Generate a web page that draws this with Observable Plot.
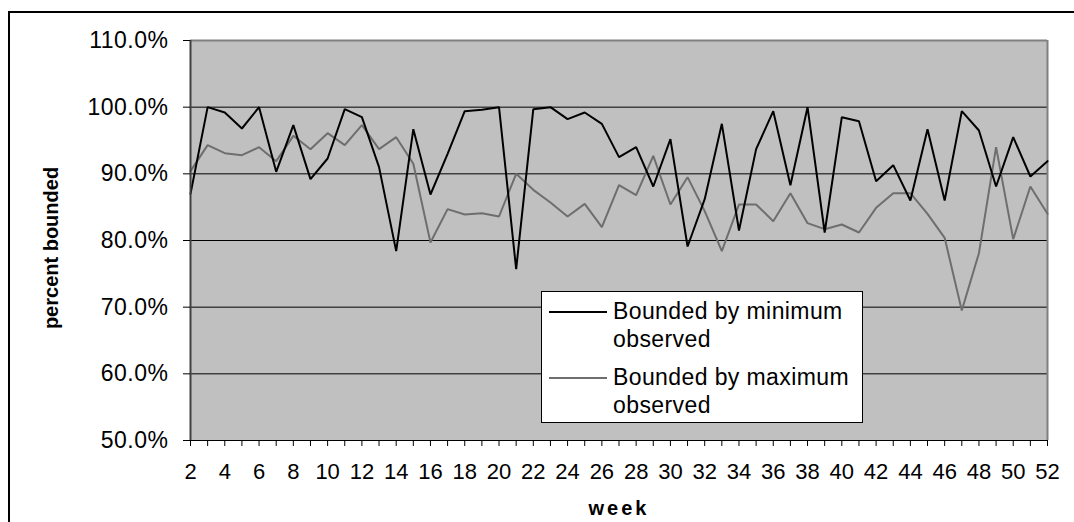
<!DOCTYPE html>
<html>
<head>
<meta charset="utf-8">
<script src="https://cdn.jsdelivr.net/npm/d3@7"></script>
<script src="https://cdn.jsdelivr.net/npm/@observablehq/plot@0.6"></script>
<style>
  html, body { margin: 0; padding: 0; background: #fff; overflow: hidden; }
  #wrap { position: relative; width: 1074px; height: 522px; font-family: "Liberation Sans", Arial, sans-serif; }
  #border { position: absolute; left: 8px; top: 11px; width: 1200px; height: 700px; border: 2px solid #000; }
  #chart { position: absolute; left: 0; top: 0; }
  .ytitle { position: absolute; left: 51px; top: 248px; transform: translate(-50%, -50%) rotate(-90deg); font-weight: bold; font-size: 20px; white-space: nowrap; }
  .xtitle { position: absolute; left: 619px; top: 508px; transform: translate(-50%, -50%); font-weight: bold; font-size: 20px; letter-spacing: 3px; white-space: nowrap; }
  #legend { position: absolute; left: 541px; top: 291px; width: 320px; height: 130px; background: #fff; border: 1px solid #000; font-size: 23px; letter-spacing: 0.4px; }
  .entry { position: absolute; left: 0; }
  .swatch { position: absolute; left: 7px; width: 58px; height: 0; }
  .ltext { position: absolute; left: 71px; line-height: 28px; white-space: nowrap; }
  .yax text { letter-spacing: 0.5px; }
</style>
</head>
<body>
<div id="wrap">
  <div id="border"></div>
  <div id="chart"></div>
  <div class="ytitle">percent bounded</div>
  <div class="xtitle">week</div>
  <div id="legend"></div>
</div>
<script>
const weeks = [2,3,4,5,6,7,8,9,10,11,12,13,14,15,16,17,18,19,20,21,22,23,24,25,26,27,
  28,29,30,31,32,33,34,35,36,37,38,39,40,41,42,43,44,45,46,47,48,49,50,51,52];
const weekLabels = [2,4,6,8,10,12,14,16,18,20,22,24,26,28,30,32,34,36,38,40,42,44,46,48,50,52];
// percent values
const boundedByMin = [87.0,100.0,99.2,96.8,100.0,90.3,97.3,89.2,92.3,99.7,98.5,91.0,78.4,96.7,86.9,93.0,
  99.4,99.6,100.0,75.7,99.7,100.0,98.2,99.2,97.5,92.5,94.0,88.1,95.2,79.1,86.2,97.5,81.5,93.7,
  99.4,88.3,100.0,81.2,98.5,97.9,88.9,91.3,86.0,96.7,86.0,99.4,96.5,88.1,95.5,89.6,91.9];
const boundedByMax = [90.4,94.3,93.1,92.8,94.0,91.9,95.7,93.7,96.1,94.3,97.3,93.7,95.5,91.5,79.7,84.7,
  83.9,84.1,83.6,90.0,87.6,85.7,83.6,85.5,82.0,88.3,86.8,92.7,85.4,89.5,84.4,78.4,85.4,85.4,
  82.9,87.1,82.6,81.7,82.4,81.2,84.9,87.1,87.1,84.0,80.4,69.5,78.1,94.0,80.2,88.1,84.0];
const yTicks = [0.5,0.6,0.7,0.8,0.9,1.0,1.1];
const gridTicks = [0.6,0.7,0.8,0.9,1.0];
const seriesNames = ["Bounded by minimum observed", "Bounded by maximum observed"];
const seriesColors = ["#000000", "#6e6e6e"];

const data = weeks.map((w, i) => ({week: w, min: boundedByMin[i] / 100, max: boundedByMax[i] / 100}));

const chart = Plot.plot({
  width: 1074,
  height: 522,
  marginLeft: 190,
  marginRight: 27,
  marginTop: 40,
  marginBottom: 82,
  style: {fontFamily: '"Liberation Sans", Arial, sans-serif', fontSize: "22px", color: "#000", background: "transparent", overflow: "visible"},
  x: {type: "linear", domain: [2, 52]},
  y: {domain: [0.5, 1.1]},
  marks: [
    Plot.frame({fill: "#c0c0c0", stroke: null}),
    Plot.ruleY(gridTicks, {stroke: "#000", strokeWidth: 1}),
    Plot.ruleY([1.1], {stroke: "#808080", strokeWidth: 2}),
    Plot.ruleX([52], {stroke: "#808080", strokeWidth: 2}),
    Plot.lineY(data, {x: "week", y: "max", stroke: seriesColors[1], strokeWidth: 2, strokeLinejoin: "miter"}),
    Plot.lineY(data, {x: "week", y: "min", stroke: seriesColors[0], strokeWidth: 2, strokeLinejoin: "miter"}),
    Plot.ruleX([2], {stroke: "#404040", strokeWidth: 2}),
    Plot.ruleY([0.5], {stroke: "#000", strokeWidth: 1}),
    Plot.axisY({ticks: yTicks, tickFormat: d3.format(".1%"), tickSize: 7, tickPadding: 15, label: null, fontSize: 23, className: "yax"}),
    Plot.axisX({ticks: weeks, tickFormat: () => "", tickSize: 6, label: null}),
    Plot.axisX({ticks: weekLabels, tickFormat: d => String(d), tickSize: 0, tickPadding: 23, label: null, fontSize: 22})
  ]
});
document.getElementById("chart").appendChild(chart);

// legend
const legend = document.getElementById("legend");
const tops = [5, 71];
seriesNames.forEach((name, i) => {
  const words = name.split(" ");
  const first = words.slice(0, 3).join(" ");
  const second = words.slice(3).join(" ");
  const e = document.createElement("div");
  e.className = "entry";
  e.style.top = tops[i] + "px";
  e.innerHTML = `<div class="swatch" style="top:14px;border-top:2px solid ${seriesColors[i]}"></div>` +
    `<div class="ltext">${first}<br>${second}</div>`;
  legend.appendChild(e);
});
</script>
</body>
</html>
